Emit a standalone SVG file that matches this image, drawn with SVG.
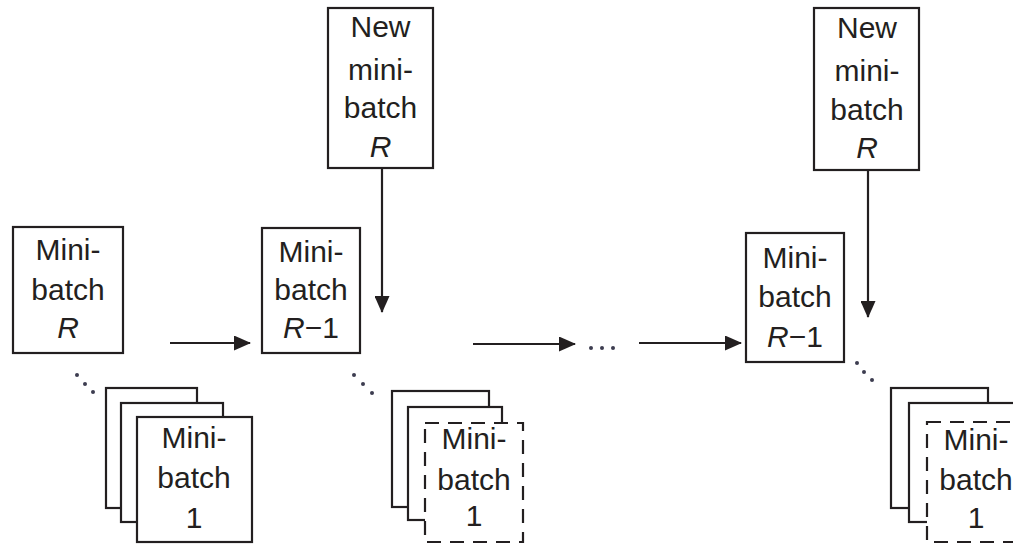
<svg xmlns="http://www.w3.org/2000/svg" width="1013" height="544" viewBox="0 0 1013 544">
<style>
.box{fill:#fff;stroke:#231f20;stroke-width:2.2}
.dash{fill:#fff;stroke:#231f20;stroke-width:2.2;stroke-dasharray:14 9}
.t{font-family:"Liberation Sans",Arial,sans-serif;font-size:30px;fill:#231f20;text-anchor:middle}
.i{font-style:italic}
.con{stroke:#231f20;stroke-width:2.2;fill:none}
.dot{fill:#3d3d50}
</style>
<defs>
<marker id="ah" markerUnits="userSpaceOnUse" markerWidth="17" markerHeight="15" refX="16" refY="7.5" orient="auto">
<path d="M0,0 L17,7.5 L0,15 Z" fill="#231f20"/>
</marker>
</defs>
<rect width="1013" height="544" fill="#fff"/>

<g id="mb-R-left">
<rect class="box" x="13" y="227" width="110" height="126"/>
<text class="t" x="68"><tspan x="68" y="260">Mini-</tspan><tspan x="68" y="300">batch</tspan><tspan x="68" y="338" class="i">R</tspan></text>
</g>

<g id="stack-left">
<rect class="box" x="106" y="388" width="91" height="120"/>
<rect class="box" x="121" y="403" width="102" height="119"/>
<rect class="box" x="137" y="417" width="115" height="125"/>
<text class="t"><tspan x="194" y="448">Mini-</tspan><tspan x="194" y="488">batch</tspan><tspan x="194" y="528">1</tspan></text>
</g>

<g id="new-mb-1">
<rect class="box" x="328" y="8" width="105" height="160"/>
<text class="t"><tspan x="380.5" y="37">New</tspan><tspan x="380.5" y="80">mini-</tspan><tspan x="380.5" y="118">batch</tspan><tspan x="380.5" y="157" class="i">R</tspan></text>
</g>

<g id="mb-R1-1">
<rect class="box" x="262" y="228" width="98" height="125"/>
<text class="t"><tspan x="311" y="262">Mini-</tspan><tspan x="311" y="300">batch</tspan><tspan x="311" y="338"><tspan class="i">R</tspan>−1</tspan></text>
</g>

<g id="stack-mid">
<rect class="box" x="392" y="391" width="97" height="116"/>
<rect class="box" x="408" y="407" width="94" height="113"/>
<rect class="dash" x="425" y="423" width="98" height="119"/>
<text class="t"><tspan x="474" y="449">Mini-</tspan><tspan x="474" y="490">batch</tspan><tspan x="474" y="526">1</tspan></text>
</g>

<g id="new-mb-2">
<rect class="box" x="814" y="8" width="105" height="162"/>
<text class="t"><tspan x="867" y="38">New</tspan><tspan x="867" y="81">mini-</tspan><tspan x="867" y="120">batch</tspan><tspan x="867" y="158" class="i">R</tspan></text>
</g>

<g id="mb-R1-2">
<rect class="box" x="746" y="233" width="98" height="129"/>
<text class="t"><tspan x="795" y="268">Mini-</tspan><tspan x="795" y="307">batch</tspan><tspan x="795" y="347"><tspan class="i">R</tspan>−1</tspan></text>
</g>

<g id="stack-right">
<rect class="box" x="891" y="388" width="97" height="120"/>
<rect class="box" x="909" y="403" width="112" height="119"/>
<rect class="dash" x="927" y="422" width="100" height="120"/>
<text class="t"><tspan x="976" y="450">Mini-</tspan><tspan x="976" y="490">batch</tspan><tspan x="976" y="528">1</tspan></text>
</g>

<g id="ellipses">
<circle class="dot" cx="77" cy="375" r="2"/><circle class="dot" cx="85" cy="384" r="2"/><circle class="dot" cx="93" cy="392" r="2"/>
<circle class="dot" cx="354" cy="375" r="2"/><circle class="dot" cx="363" cy="384" r="2"/><circle class="dot" cx="372" cy="393" r="2"/>
<circle class="dot" cx="857" cy="363" r="2"/><circle class="dot" cx="864" cy="372" r="2"/><circle class="dot" cx="872" cy="380" r="2"/>
<circle class="dot" cx="591" cy="348" r="2"/><circle class="dot" cx="602" cy="348" r="2"/><circle class="dot" cx="613" cy="348" r="2"/>
</g>

<g id="connectors">
<line class="con" x1="170" y1="343" x2="250" y2="343" marker-end="url(#ah)"/>
<line class="con" x1="382" y1="168" x2="382" y2="312" marker-end="url(#ah)"/>
<line class="con" x1="473" y1="344" x2="575" y2="344" marker-end="url(#ah)"/>
<line class="con" x1="639" y1="343" x2="741" y2="343" marker-end="url(#ah)"/>
<line class="con" x1="868" y1="170" x2="868" y2="317" marker-end="url(#ah)"/>
</g>
</svg>
